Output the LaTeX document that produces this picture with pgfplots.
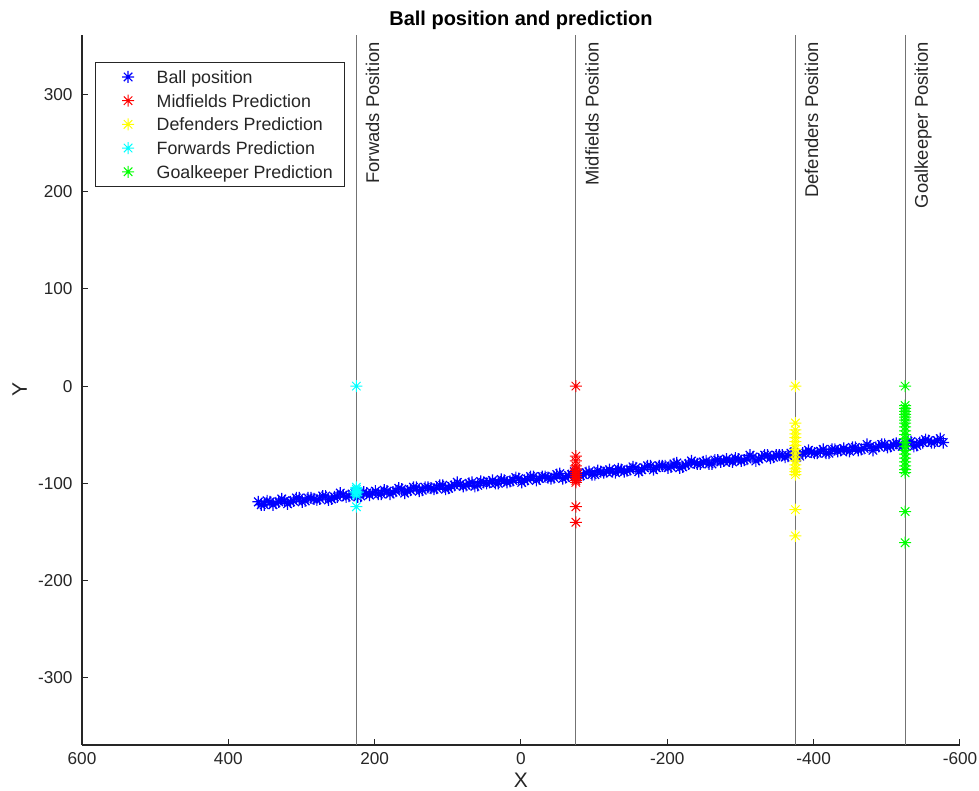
\documentclass[border=0pt]{standalone}
\usepackage{fontspec}
\setmainfont{Liberation Sans}
\usepackage{pgfplots}
\pgfplotsset{compat=1.18}

\definecolor{txt}{rgb}{0.15,0.15,0.15}
\definecolor{mgreen}{rgb}{0,1,0}
\definecolor{myellow}{rgb}{1,1,0}
\definecolor{mcyan}{rgb}{0,1,1}

% matlab style '*' marker: plus and cross on top of each other
\pgfdeclareplotmark{mstar}{%
  \pgfpathmoveto{\pgfqpoint{-\pgfplotmarksize}{0pt}}%
  \pgfpathlineto{\pgfqpoint{\pgfplotmarksize}{0pt}}%
  \pgfpathmoveto{\pgfqpoint{0pt}{-\pgfplotmarksize}}%
  \pgfpathlineto{\pgfqpoint{0pt}{\pgfplotmarksize}}%
  \pgfpathmoveto{\pgfqpoint{-0.707\pgfplotmarksize}{-0.707\pgfplotmarksize}}%
  \pgfpathlineto{\pgfqpoint{0.707\pgfplotmarksize}{0.707\pgfplotmarksize}}%
  \pgfpathmoveto{\pgfqpoint{-0.707\pgfplotmarksize}{0.707\pgfplotmarksize}}%
  \pgfpathlineto{\pgfqpoint{0.707\pgfplotmarksize}{-0.707\pgfplotmarksize}}%
  \pgfusepathqstroke}

\begin{document}
\begin{tikzpicture}
\begin{axis}[
    scale only axis,
    width=439pt, height=355pt,
    xmin=-600, xmax=600, x dir=reverse,
    ymin=-369, ymax=361,
    xtick={-600,-400,...,600},
    ytick={-300,-200,...,300},
    axis x line*=bottom, axis y line*=left,
    axis line style={txt, line width=0.6pt},
    tick align=inside,
    major tick length=3pt,
    tick style={txt, line width=0.5pt},
    ticklabel style={font=\fontsize{8.6}{10}\selectfont, text=txt},
    yticklabel style={xshift=-1.2pt},
    /pgf/number format/assume math mode=true,
    title={Ball position and prediction},
    title style={font=\bfseries\fontsize{10}{12}\selectfont, at={(0.5,1)}, anchor=base, yshift=-1.5pt, inner sep=0pt},
    xlabel={X}, ylabel={Y},
    label style={font=\fontsize{10.5}{12}\selectfont, text=txt},
    xlabel style={at={(0.5,0)}, anchor=base, yshift=-21.5pt, inner sep=0pt},
    ylabel style={at={(0,0.5)}, anchor=south, rotate=0, yshift=24pt},
    legend style={at={(0.0148,0.962)}, anchor=north west, draw=txt, line width=0.5pt,
        font=\fontsize{8.9}{10}\selectfont, text=txt,
        cells={anchor=west, text height=8pt, text depth=0pt},
        row sep=-1.65pt, inner xsep=4pt, inner ysep=0.5pt},
    legend image code/.code={%
        \path (0pt,0pt) (24pt,0pt);
        \draw[#1, mark size=3pt] plot coordinates {(12pt,0pt)};},
    every axis plot/.append style={only marks, mark=mstar, mark size=3pt, line width=0.5pt},
    clip=false,
]

% ball position
\addplot[blue, mark size=3pt, line width=0.6pt] coordinates {
(359,-119) (351,-122) (343,-119) (335,-120) (327,-116) (319,-121) (311,-118) (303,-115)
(295,-118) (287,-115) (279,-117) (271,-113) (263,-117) (255,-114) (247,-110) (239,-114)
(231,-111) (223,-114) (215,-109) (207,-112) (199,-108) (191,-111) (183,-108) (175,-109)
(167,-105) (159,-110) (151,-107) (143,-104) (135,-107) (127,-104) (119,-106) (111,-102)
(103,-106) (95,-103) (87,-99) (79,-103) (71,-100) (63,-103) (55,-98) (47,-100)
(39,-97) (31,-100) (23,-97) (15,-98) (7,-94) (-1,-99) (-9,-96) (-17,-93)
(-25,-95) (-33,-93) (-41,-95) (-49,-91) (-57,-95) (-65,-92) (-73,-88) (-81,-92)
(-89,-89) (-97,-91) (-105,-87) (-113,-89) (-121,-86) (-129,-89) (-137,-86) (-145,-87)
(-153,-83) (-161,-88) (-169,-84) (-177,-82) (-185,-84) (-193,-82) (-201,-84) (-209,-80)
(-217,-84) (-225,-81) (-233,-77) (-241,-80) (-249,-78) (-257,-80) (-265,-76) (-273,-78)
(-281,-75) (-289,-78) (-297,-75) (-305,-76) (-313,-71) (-321,-77) (-329,-73) (-337,-71)
(-345,-73) (-353,-71) (-361,-73) (-369,-69) (-377,-73) (-385,-69) (-393,-66) (-401,-69)
(-409,-67) (-417,-69) (-425,-65) (-433,-67) (-441,-64) (-449,-67) (-457,-63) (-465,-65)
(-473,-60) (-481,-66) (-489,-62) (-497,-60) (-505,-62) (-513,-59) (-521,-62) (-529,-57)
(-537,-62) (-545,-58) (-553,-55) (-561,-58) (-569,-56) (-577,-58)
};
\addlegendentry{Ball position}
\addplot[blue, mark size=3pt, line width=0.6pt, forget plot] coordinates {
(355,-122) (347,-118) (339,-122) (331,-119) (323,-118) (315,-119) (307,-115) (299,-119)
(291,-115) (283,-116) (275,-116) (267,-113) (259,-116) (251,-114) (243,-112) (235,-113)
(227,-110) (219,-113) (211,-110) (203,-110) (195,-111) (187,-107) (179,-111) (171,-108)
(163,-106) (155,-108) (147,-104) (139,-108) (131,-104) (123,-105) (115,-105) (107,-102)
(99,-105) (91,-102) (83,-101) (75,-102) (67,-99) (59,-102) (51,-99) (43,-99)
(35,-100) (27,-96) (19,-99) (11,-97) (3,-95) (-5,-97) (-13,-93) (-21,-97)
(-29,-93) (-37,-94) (-45,-94) (-53,-90) (-61,-94) (-69,-91) (-77,-90) (-85,-91)
(-93,-88) (-101,-91) (-109,-88) (-117,-88) (-125,-88) (-133,-85) (-141,-88) (-149,-86)
(-157,-84) (-165,-86) (-173,-82) (-181,-86) (-189,-82) (-197,-82) (-205,-83) (-213,-79)
(-221,-83) (-229,-80) (-237,-79) (-245,-80) (-253,-77) (-261,-80) (-269,-76) (-277,-77)
(-285,-77) (-293,-74) (-301,-77) (-309,-75) (-317,-73) (-325,-75) (-333,-71) (-341,-74)
(-349,-71) (-357,-71) (-365,-72) (-373,-68) (-381,-72) (-389,-69) (-397,-68) (-405,-69)
(-413,-65) (-421,-69) (-429,-65) (-437,-66) (-445,-66) (-453,-63) (-461,-66) (-469,-64)
(-477,-62) (-485,-63) (-493,-60) (-501,-63) (-509,-60) (-517,-60) (-525,-61) (-533,-57)
(-541,-61) (-549,-58) (-557,-56) (-565,-58) (-573,-54)
};

% midfields prediction
\addplot[red] coordinates {
(-75,0) (-75,-72) (-75,-77) (-75,-82) (-75,-85) (-75,-87) (-75,-89) (-75,-91)
(-75,-93) (-75,-95) (-75,-97) (-75,-99) (-75,-124) (-75,-140)
};
\addlegendentry{Midfields Prediction}

% defenders prediction
\addplot[myellow] coordinates {
(-375,0) (-375,-38) (-375,-45) (-375,-49) (-375,-53) (-375,-57) (-375,-61) (-375,-65)
(-375,-69) (-375,-73) (-375,-77) (-375,-81) (-375,-85) (-375,-88) (-375,-91)
(-375,-127) (-375,-154)
};
\addlegendentry{Defenders Prediction}

% forwards prediction
\addplot[mcyan] coordinates {
(225,0) (225,-104) (225,-106) (225,-108) (225,-110) (225,-112) (223,-109) (227,-109) (225,-124)
};
\addlegendentry{Forwards Prediction}

% goalkeeper prediction
\addplot[mgreen] coordinates {
(-525,0) (-525,-20) (-525,-23) (-525,-26) (-525,-29) (-525,-32) (-525,-35) (-525,-38)
(-525,-42) (-525,-46) (-525,-50) (-525,-54) (-525,-58) (-525,-62) (-525,-66) (-525,-70)
(-525,-74) (-525,-78) (-525,-82) (-525,-86) (-525,-89) (-525,-129) (-525,-161)
};
\addlegendentry{Goalkeeper Prediction}

% player line positions
\addplot[black!55, no marks, sharp plot, forget plot] coordinates {(225,-369) (225,361)};
\addplot[black!55, no marks, sharp plot, forget plot] coordinates {(-75,-369) (-75,361)};
\addplot[black!55, no marks, sharp plot, forget plot] coordinates {(-375,-369) (-375,361)};
\addplot[black!55, no marks, sharp plot, forget plot] coordinates {(-525,-369) (-525,361)};

\foreach \xx/\lab in {225/Forwads Position, -75/Midfields Position,
                      -375/Defenders Position, -525/Goalkeeper Position} {
  \edef\tmp{\noexpand\node[rotate=90, anchor=north east, inner sep=0pt,
      font=\noexpand\fontsize{9.2}{10}\noexpand\selectfont, text=txt]
      at ([xshift=4.5pt,yshift=-3.5pt]axis cs:\xx,361) {\lab};}
  \tmp
}
\end{axis}
\pgfresetboundingbox
\path ([shift={(-41pt,-23pt)}]current axis.south west) rectangle ([shift={(9.5pt,17.5pt)}]current axis.north east);
\end{tikzpicture}
\end{document}
